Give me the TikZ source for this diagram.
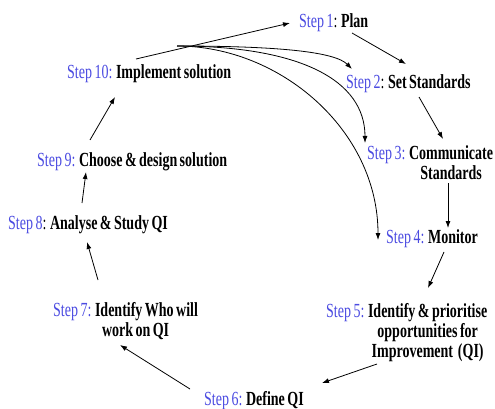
\documentclass[tikz,border=0pt]{standalone}
\usepackage{fontspec}
\setmainfont{Liberation Serif}[FakeStretch=0.70,WordSpace=0.7]
\usetikzlibrary{arrows.meta}
\definecolor{stepblue}{RGB}{75,75,225}
\newcommand{\stp}[1]{\textcolor{stepblue}{#1}}
\tikzset{
  lbl/.style={inner sep=0pt, anchor=base west, font=\fontsize{20}{20}\selectfont},
  flow/.style={line width=0.8pt, -{Latex[length=7pt,width=5pt]}},
}
\begin{document}
\begin{tikzpicture}[x=1pt,y=-1pt]
  \useasboundingbox (0,0) rectangle (495,409);

  % cycle steps
  \node[lbl] (s1)  at (299,28)  {\stp{Step 1}: \textbf{Plan}};
  \node[lbl] (s2)  at (346,89)  {\stp{Step 2}: \textbf{Set Standards}};
  \node[lbl] (s3)  at (367,160) {\stp{Step 3:} \bfseries\begin{tabular}[t]{@{}c@{}}Communicate\\Standards\end{tabular}};
  \node[lbl] (s4)  at (386,243) {\stp{Step 4:} \textbf{Monitor}};
  \node[lbl] (s5)  at (326,317) {\stp{Step 5:} \bfseries\begin{tabular}[t]{@{}c@{}}Identify \& prioritise\\opportunities for\\Improvement~ (QI)\end{tabular}};
  \node[lbl] (s6)  at (204,405) {\stp{Step 6:} \textbf{Define QI}};
  \node[lbl] (s7)  at (53,316)  {\stp{Step 7:} \bfseries\begin{tabular}[t]{@{}l@{}}Identify Who will\\\hspace{7pt}work on QI\end{tabular}};
  \node[lbl] (s8)  at (8,229)   {\stp{Step 8}: \textbf{Analyse \& Study QI}};
  \node[lbl] (s9)  at (37,166)  {\stp{Step 9:} \textbf{Choose \& design solution}};
  \node[lbl] (s10) at (67,79)   {\stp{Step 10:} \textbf{Implement solution}};

  % connector ends
  \coordinate (o10) at (136,59);  \coordinate (i1) at (290,23);
  \coordinate (o1)  at (352,33);  \coordinate (i2) at (406,64);
  \coordinate (o2)  at (419,97);  \coordinate (i3) at (443,139);
  \coordinate (o3)  at (448,183); \coordinate (i4) at (448,228);
  \coordinate (o4)  at (444,252); \coordinate (i5) at (428,288);
  \coordinate (o5)  at (377,364); \coordinate (i6) at (322,383);
  \coordinate (o6)  at (190,389); \coordinate (i7) at (120,345);
  \coordinate (o7)  at (98,280);  \coordinate (i8) at (87,242);
  \coordinate (o8)  at (82,203);  \coordinate (i9) at (86,172);
  \coordinate (o9)  at (90,140);  \coordinate (i10) at (115,97);
  \coordinate (fan) at (177,46);
  \coordinate (f2) at (352,69);
  \coordinate (f3) at (365,143);
  \coordinate (f4) at (378,240);

  % main cycle
  \draw[flow] (o10) -- (i1);
  \draw[flow] (o1) -- (i2);
  \draw[flow] (o2) -- (i3);
  \draw[flow] (o3) -- (i4);
  \draw[flow] (o4) -- (i5);
  \draw[flow] (o5) -- (i6);
  \draw[flow] (o6) -- (i7);
  \draw[flow] (o7) -- (i8);
  \draw[flow] (o8) -- (i9);
  \draw[flow] (o9) -- (i10);

  % feedback fan back into steps 2-4
  \draw[flow] (fan) .. controls (280,46) and (335,52) .. (f2);
  \draw[flow] (fan) .. controls (300,46) and (365,80) .. (f3);
  \draw[flow] (fan) .. controls (280,46) and (378,130) .. (f4);
\end{tikzpicture}
\end{document}
